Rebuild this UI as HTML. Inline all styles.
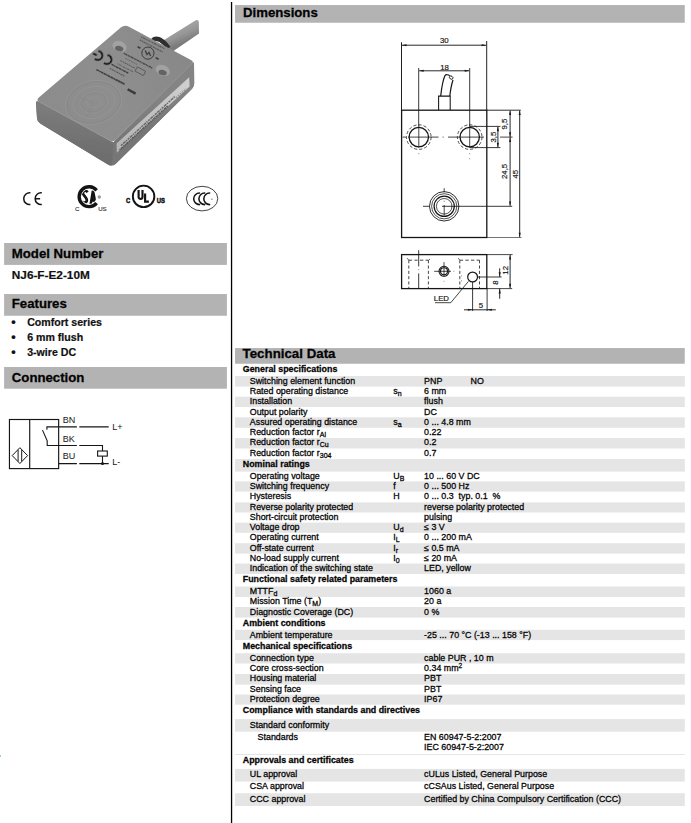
<!DOCTYPE html>
<html><head><meta charset="utf-8"><title>NJ6-F-E2-10M</title>
<style>
html,body{margin:0;padding:0;background:#fff}
body{width:691px;height:823px;position:relative;overflow:hidden;font-family:"Liberation Sans",sans-serif;color:#111}
div{position:absolute;white-space:nowrap}
.vline{left:231px;top:0;width:1.4px;height:823px;background:#111}
.bar{background:#b3b3b3}
.hd{font-weight:bold;font-size:13.2px;color:#030303;line-height:15px;-webkit-text-stroke:0.28px #030303}
.g{left:235px;width:450px;background:#e6e6e6}
.th,.tr,.ts,.sy,.va{font-size:8.87px;color:#050505;line-height:10px;height:10px;-webkit-text-stroke:0.28px #050505}
.th{left:242.8px;font-weight:bold}
.tr{left:249.8px}
.ts{left:257.6px}
.sy{left:393.3px}
.va{left:424.1px}
.no{position:absolute;left:46.5px}
sub{font-size:7px;vertical-align:baseline;position:relative;top:1.9px;line-height:0}
sup{font-size:6.6px;vertical-align:baseline;position:relative;top:-3.2px;line-height:0}
.b{font-weight:bold;font-size:10.6px;color:#111;line-height:13px;-webkit-text-stroke:0.2px #111}
svg{position:absolute;left:0;top:0}
</style></head><body>
<svg width="691" height="823" viewBox="0 0 691 823"><rect x="235" y="376" width="449.8" height="10.60" fill="#e5e5e5"/><rect x="235" y="396.7" width="449.8" height="10.30" fill="#e5e5e5"/><rect x="235" y="417.3" width="449.8" height="10.50" fill="#e5e5e5"/><rect x="235" y="438.1" width="449.8" height="10.40" fill="#e5e5e5"/><rect x="235" y="459" width="449.8" height="12.60" fill="#e5e5e5"/><rect x="235" y="481.4" width="449.8" height="10.20" fill="#e5e5e5"/><rect x="235" y="502.4" width="449.8" height="10.10" fill="#e5e5e5"/><rect x="235" y="522.6" width="449.8" height="10.20" fill="#e5e5e5"/><rect x="235" y="543.2" width="449.8" height="10.40" fill="#e5e5e5"/><rect x="235" y="563.5" width="449.8" height="10.50" fill="#e5e5e5"/><rect x="235" y="586.5" width="449.8" height="10.50" fill="#e5e5e5"/><rect x="235" y="607" width="449.8" height="10.60" fill="#e5e5e5"/><rect x="235" y="629.8" width="449.8" height="10.30" fill="#e5e5e5"/><rect x="235" y="653.2" width="449.8" height="10.30" fill="#e5e5e5"/><rect x="235" y="674" width="449.8" height="10.60" fill="#e5e5e5"/><rect x="235" y="694.5" width="449.8" height="10.20" fill="#e5e5e5"/><rect x="235" y="719.1" width="449.8" height="12.60" fill="#e5e5e5"/><rect x="235" y="754" width="449.8" height="1.00" fill="#e5e5e5"/><rect x="235" y="768.9" width="449.8" height="12.70" fill="#e5e5e5"/><rect x="235" y="793.2" width="449.8" height="12.80" fill="#e5e5e5"/><rect x="4.1" y="243" width="222.8" height="21.9" fill="#b3b3b3"/><rect x="4.1" y="294.05" width="222.8" height="21.7" fill="#b3b3b3"/><rect x="4.1" y="367" width="222.8" height="21.7" fill="#b3b3b3"/><rect x="235.05" y="5.05" width="449.7" height="17.7" fill="#b3b3b3"/><rect x="235.05" y="348.05" width="449.7" height="15.7" fill="#b3b3b3"/></svg>
<svg width="240" height="823" viewBox="0 0 240 823"><rect x="230.9" y="2" width="1.3" height="821" fill="#000"/></svg>
<div style="left:0;top:755px;width:1px;height:2px;background:#8cd6dc"></div>
<div class="hd" style="left:11.8px;top:246.4px">Model Number</div>
<div style="left:11.8px;top:268.7px;font-weight:bold;font-size:11.8px;line-height:13px;-webkit-text-stroke:0.2px #111">NJ6-F-E2-10M</div>
<div class="hd" style="left:11.8px;top:295.9px">Features</div>
<div class="b" style="left:11.3px;top:315.8px;font-size:12.5px">&bull;</div><div class="b" style="left:27.2px;top:315.8px">Comfort series</div>
<div class="b" style="left:11.3px;top:330.7px;font-size:12.5px">&bull;</div><div class="b" style="left:27.2px;top:330.7px">6 mm flush</div>
<div class="b" style="left:11.3px;top:345.8px;font-size:12.5px">&bull;</div><div class="b" style="left:27.2px;top:345.8px">3-wire DC</div>
<div class="hd" style="left:11.8px;top:370px">Connection</div>

<div class="hd" style="left:243px;top:5px">Dimensions</div>
<div class="hd" style="left:242.6px;top:346.1px;font-size:13.3px">Technical Data</div>
<div class="th" style="top:364.00px">General specifications</div>
<div class="tr" style="top:376.00px">Switching element function</div>
<div class="va" style="top:376.00px">PNP<span class="no">NO</span></div>
<div class="tr" style="top:386.00px">Rated operating distance</div>
<div class="sy" style="top:386.00px">s<sub>n</sub></div>
<div class="va" style="top:386.00px">6 mm</div>
<div class="tr" style="top:396.00px">Installation</div>
<div class="va" style="top:396.00px">flush</div>
<div class="tr" style="top:407.00px">Output polarity</div>
<div class="va" style="top:407.00px">DC</div>
<div class="tr" style="top:417.00px">Assured operating distance</div>
<div class="sy" style="top:417.00px">s<sub>a</sub></div>
<div class="va" style="top:417.00px">0 ... 4.8 mm</div>
<div class="tr" style="top:427.00px">Reduction factor r<sub>Al</sub></div>
<div class="va" style="top:427.00px">0.22</div>
<div class="tr" style="top:437.00px">Reduction factor r<sub>Cu</sub></div>
<div class="va" style="top:437.00px">0.2</div>
<div class="tr" style="top:448.00px">Reduction factor r<sub>304</sub></div>
<div class="va" style="top:448.00px">0.7</div>
<div class="th" style="top:459.00px">Nominal ratings</div>
<div class="tr" style="top:471.00px">Operating voltage</div>
<div class="sy" style="top:471.00px">U<sub>B</sub></div>
<div class="va" style="top:471.00px">10 ... 60 V DC</div>
<div class="tr" style="top:481.00px">Switching frequency</div>
<div class="sy" style="top:481.00px">f</div>
<div class="va" style="top:481.00px">0 ... 500 Hz</div>
<div class="tr" style="top:491.00px">Hysteresis</div>
<div class="sy" style="top:491.00px">H</div>
<div class="va" style="top:491.00px">0 ... 0.3&nbsp; typ. 0.1&nbsp; %</div>
<div class="tr" style="top:502.00px">Reverse polarity protected</div>
<div class="va" style="top:502.00px">reverse polarity protected</div>
<div class="tr" style="top:512.00px">Short-circuit protection</div>
<div class="va" style="top:512.00px">pulsing</div>
<div class="tr" style="top:522.00px">Voltage drop</div>
<div class="sy" style="top:522.00px">U<sub>d</sub></div>
<div class="va" style="top:522.00px">&le; 3 V</div>
<div class="tr" style="top:532.00px">Operating current</div>
<div class="sy" style="top:532.00px">I<sub>L</sub></div>
<div class="va" style="top:532.00px">0 ... 200 mA</div>
<div class="tr" style="top:543.00px">Off-state current</div>
<div class="sy" style="top:543.00px">I<sub>r</sub></div>
<div class="va" style="top:543.00px">&le; 0.5 mA</div>
<div class="tr" style="top:553.00px">No-load supply current</div>
<div class="sy" style="top:553.00px">I<sub>0</sub></div>
<div class="va" style="top:553.00px">&le; 20 mA</div>
<div class="tr" style="top:563.00px">Indication of the switching state</div>
<div class="va" style="top:563.00px">LED, yellow</div>
<div class="th" style="top:574.00px">Functional safety related parameters</div>
<div class="tr" style="top:586.00px">MTTF<sub>d</sub></div>
<div class="va" style="top:586.00px">1060 a</div>
<div class="tr" style="top:596.00px">Mission Time (T<sub>M</sub>)</div>
<div class="va" style="top:596.00px">20 a</div>
<div class="tr" style="top:607.00px">Diagnostic Coverage (DC)</div>
<div class="va" style="top:607.00px">0 %</div>
<div class="th" style="top:618.00px">Ambient conditions</div>
<div class="tr" style="top:630.00px">Ambient temperature</div>
<div class="va" style="top:630.00px">-25 ... 70 &deg;C (-13 ... 158 &deg;F)</div>
<div class="th" style="top:641.00px">Mechanical specifications</div>
<div class="tr" style="top:653.00px">Connection type</div>
<div class="va" style="top:653.00px">cable PUR , 10 m</div>
<div class="tr" style="top:663.00px">Core cross-section</div>
<div class="va" style="top:663.00px">0.34 mm<sup>2</sup></div>
<div class="tr" style="top:673.00px">Housing material</div>
<div class="va" style="top:673.00px">PBT</div>
<div class="tr" style="top:684.00px">Sensing face</div>
<div class="va" style="top:684.00px">PBT</div>
<div class="tr" style="top:694.00px">Protection degree</div>
<div class="va" style="top:694.00px">IP67</div>
<div class="th" style="top:705.00px">Compliance with standards and directives</div>
<div class="tr" style="top:720.00px">Standard conformity</div>
<div class="ts" style="top:732.00px">Standards</div>
<div class="va" style="top:732.00px">EN 60947-5-2:2007</div>
<div class="va" style="top:742.00px">IEC 60947-5-2:2007</div>
<div class="th" style="top:755.00px">Approvals and certificates</div>
<div class="tr" style="top:769.00px">UL approval</div>
<div class="va" style="top:769.00px">cULus Listed, General Purpose</div>
<div class="tr" style="top:781.00px">CSA approval</div>
<div class="va" style="top:781.00px">cCSAus Listed, General Purpose</div>
<div class="tr" style="top:794.00px">CCC approval</div>
<div class="va" style="top:794.00px">Certified by China Compulsory Certification (CCC)</div>
<svg width="231" height="180" viewBox="0 0 231 180" style="pointer-events:none">
<defs>
<filter id="pb" x="-5%" y="-5%" width="110%" height="110%"><feGaussianBlur stdDeviation="0.6"/></filter>
<filter id="pb3" x="-20%" y="-20%" width="140%" height="140%"><feGaussianBlur stdDeviation="0.45"/></filter>
<linearGradient id="gtop" gradientUnits="userSpaceOnUse" x1="40" y1="100" x2="190" y2="60">
<stop offset="0" stop-color="#8c8c8c"/><stop offset="0.5" stop-color="#8e8e8e"/><stop offset="1" stop-color="#888888"/>
</linearGradient>
<linearGradient id="gleft" gradientUnits="userSpaceOnUse" x1="75" y1="110" x2="70" y2="150">
<stop offset="0" stop-color="#7c7c7c"/><stop offset="1" stop-color="#6e6e6e"/>
</linearGradient>
<linearGradient id="gright" gradientUnits="userSpaceOnUse" x1="150" y1="100" x2="158" y2="128">
<stop offset="0" stop-color="#848484"/><stop offset="1" stop-color="#767676"/>
</linearGradient>
<linearGradient id="gcab" gradientUnits="userSpaceOnUse" x1="180" y1="28" x2="186" y2="42">
<stop offset="0" stop-color="#a2a2a2"/><stop offset="0.5" stop-color="#949494"/><stop offset="1" stop-color="#7a7a7a"/>
</linearGradient>
<linearGradient id="gstrip" gradientUnits="userSpaceOnUse" x1="116" y1="150" x2="190" y2="82">
<stop offset="0" stop-color="#b4b4b4"/><stop offset="0.6" stop-color="#c4c4c4"/><stop offset="1" stop-color="#d0d0d0"/>
</linearGradient>
</defs>
<g filter="url(#pb)">
<!-- cable -->
<path d="M160 42.6L195.8 20.3Q198.6 19.4 198.8 22L199 33.4L172 52Z" fill="url(#gcab)"/>
<!-- gland -->
<path d="M151.5 38.6C155 34.6 163 36 170.4 46.8L167 49.6C162 42 156 40 152.6 41.6Z" fill="#2e2e2e"/>
<!-- faces -->
<path d="M36.0 103.2Q35.8 100.2 38.4 101.6L112.8 142.2Q113.2 142.4 113.6 142.0L192.6 63.0Q194.0 61.6 194.0 63.6L194.2 83.6Q194.2 86.6 192.1 88.7L115.8 163.7Q112.2 167.2 107.9 164.6L40.2 123.6Q37.2 121.8 37.0 118.3Z" fill="#797979"/>
<path d="M113.2 142.9Q113.2 142.4 113.6 142.0L192.6 63.0Q194.0 61.6 194.0 63.6L194.2 83.6Q194.2 86.6 192.1 88.7L115.8 163.7Q112.2 167.2 112.4 162.2Z" fill="url(#gright)"/>
<path d="M36.0 103.2Q35.8 100.2 38.4 101.6L112.8 142.2Q113.2 142.4 113.2 142.9L112.4 162.2Q112.2 167.2 107.9 164.6L40.2 123.6Q37.2 121.8 37.0 118.3Z" fill="url(#gleft)"/>
<!-- label strip -->
<path d="M116.6 143.6L189.2 77.2L189.6 86.4L116.8 152.8Z" fill="url(#gstrip)"/>
<path d="M121 145.6L175 96.4" stroke="#6a6a6a" stroke-width="1.5" stroke-dasharray="2.2 0.8 3.2 0.7 1.4 0.9" fill="none"/>
<path d="M119.6 150L168 105.8" stroke="#585858" stroke-width="1.6" stroke-dasharray="1.2 0.6 2.6 0.6 1.8 0.5" fill="none"/>
<path d="M176 97.6L186 88.6" stroke="#8a8a8a" stroke-width="1.2" stroke-dasharray="1.4 1.2" fill="none"/>
<!-- top face -->
<path d="M120.8 27.5Q124.6 24.3 129.0 26.7L191.4 60.2Q194.0 61.6 191.9 63.7L116.0 139.6Q113.2 142.4 109.7 140.5L39.3 102.1Q35.8 100.2 38.8 97.6Z" fill="url(#gtop)"/>
<!-- edge highlight -->
<path d="M39 101.6L112.6 141.8" fill="none" stroke="#969696" stroke-width="1.1" opacity="0.6"/>
<path d="M114.4 141L192.6 63" fill="none" stroke="#969696" stroke-width="1" opacity="0.45"/>
<!-- sensing face rings -->
<g fill="none" stroke-width="0.9">
<ellipse cx="93.7" cy="102.4" rx="28.5" ry="21.5" transform="rotate(-14 93.7 102.4)" stroke="#979797" opacity="0.75"/>
<ellipse cx="93.7" cy="102.4" rx="27" ry="20.3" transform="rotate(-14 93.7 102.4)" stroke="#838383" opacity="0.6"/>
<ellipse cx="93.7" cy="102.4" rx="21" ry="15.8" transform="rotate(-14 93.7 102.4)" stroke="#979797" opacity="0.7"/>
<ellipse cx="93.7" cy="102.4" rx="14" ry="10.5" transform="rotate(-14 93.7 102.4)" stroke="#979797" opacity="0.7"/>
<ellipse cx="93.7" cy="102.4" rx="13" ry="9.6" transform="rotate(-14 93.7 102.4)" stroke="#848484" opacity="0.6"/>
<ellipse cx="93.7" cy="102.4" rx="7" ry="5.2" transform="rotate(-14 93.7 102.4)" stroke="#979797" opacity="0.6"/>
<path d="M93.7 102.4L84 122M93.7 102.4L80 98" stroke="#868686" opacity="0.5"/>
</g>
<!-- mounting holes -->
<ellipse cx="119.6" cy="46.4" rx="7.4" ry="5.2" transform="rotate(22 119.6 46.4)" fill="#a2a2a2"/>
<ellipse cx="119.2" cy="48.6" rx="4.2" ry="2.6" transform="rotate(15 119.2 48.6)" fill="#636363"/>
<ellipse cx="162.8" cy="70.4" rx="7.4" ry="5.2" transform="rotate(22 162.8 70.4)" fill="#a2a2a2"/>
<ellipse cx="162.6" cy="72.6" rx="4.2" ry="2.6" transform="rotate(15 162.6 72.6)" fill="#636363"/>
</g>
<g filter="url(#pb3)" fill="none">
<path d="M141.1 36.8L164.3 48.6" stroke="#5a5a5a" stroke-width="1.3" stroke-dasharray="1.4 0.6 2.2 0.5 0.9 0.6" opacity="1"/><path d="M139.7 39.9L162.6 52.0" stroke="#5e5e5e" stroke-width="1.3" stroke-dasharray="2 0.6 1.1 0.5 2.6 0.7" opacity="1"/><path d="M123.7 53.2L152.2 68.0" stroke="#4a4a4a" stroke-width="1.5" stroke-dasharray="1.2 0.5 2.4 0.5 1.6 0.4" opacity="1"/><path d="M125.5 58.4L137.5 64.6" stroke="#666" stroke-width="1.1" stroke-dasharray="1.6 0.7 0.9 0.6" opacity="1"/><path d="M120.4 60.6L135.0 68.2" stroke="#5c5c5c" stroke-width="1.1" stroke-dasharray="2.2 0.6 1.2 0.6" opacity="1"/><path d="M117.6 63.8L133.0 71.8" stroke="#626262" stroke-width="1.1" stroke-dasharray="1.2 0.6 2.1 0.6" opacity="1"/><path d="M111.6 64.4L128.4 73.2" stroke="#444" stroke-width="1.5" stroke-dasharray="2.4 0.5 1.4 0.4 3 0.5" opacity="1"/><path d="M109.8 68.4L125.0 76.4" stroke="#5a5a5a" stroke-width="1.2" stroke-dasharray="1.4 0.6 2.4 0.6" opacity="1"/><path d="M96.4 69.6L124.0 84.0" stroke="#3e3e3e" stroke-width="1.6" stroke-dasharray="2.8 0.5 1.6 0.4 2.2 0.5" opacity="1"/><path d="M116.0 79.5L124.8 84.2" stroke="#4a4a4a" stroke-width="1.4" opacity="1"/><path d="M127.6 89.2L135.6 93.6" stroke="#3a3a3a" stroke-width="2.4" opacity="1"/>
<path d="M137.1 67.1Q137.2 66.8 137.5 66.9L145.3 71.1Q145.6 71.2 145.5 71.5L143.5 75.3Q143.4 75.6 143.1 75.5L135.3 71.3Q135.0 71.2 135.1 70.9Z" stroke="#4c4c4c" stroke-width="0.8"/>
<circle cx="147.9" cy="53.1" r="6.1" stroke="#3a3a3a" stroke-width="1"/>
<path d="M145.2 50.6L147 54.6L149 52.4L150.6 56" stroke="#3a3a3a" stroke-width="1.2"/>
<path d="M137.6 46.8L140.4 48.2M155.6 57.6L158.6 59.2" stroke="#3a3a3a" stroke-width="1.6"/>
</g>
<!-- CE mark on housing -->
<g filter="url(#pb3)" fill="none" stroke="#141414" stroke-width="1.75" transform="rotate(24 101 57)">
<path d="M96.2 52.6A4.5 4.5 0 1 1 96.2 61.2M92.4 57H96.4"/>
<path d="M106.2 52.6A4.5 4.5 0 1 1 106.2 61.2"/>
</g>
</svg>

<svg width="240" height="240" viewBox="0 0 240 240" style="pointer-events:none">
<!-- CE -->
<g fill="none" stroke="#141414" stroke-width="1.5" stroke-linecap="butt">
<path d="M30.4 192.85A5.9 5.9 0 1 0 30.4 204.55"/>
<path d="M41.8 192.85A5.9 5.9 0 1 0 41.8 204.55M35.6 198.7H40.1"/>
</g>
<!-- CSA -->
<g>
<path d="M96.6 190.3A9.9 9.9 0 1 0 96.6 203.1" fill="none" stroke="#141414" stroke-width="3.4"/>
<clipPath id="csac"><circle cx="89" cy="196.7" r="7.35"/></clipPath>
<g clip-path="url(#csac)" fill="none" stroke="#141414" stroke-width="2.7" stroke-linejoin="miter">
<path d="M87.6 192.2C86 189.8 82.6 190.6 82.9 193.4C83.1 195.2 86.6 197.6 86.8 199.9C87 202.6 83.6 203.6 81.8 201.2"/>
<path d="M90.6 205L93 190.6L95.6 205M91 200.4H95.2" stroke-width="2.6"/>
</g>
<circle cx="99.3" cy="197" r="1.7" fill="#999"/>
<g font-family="Liberation Sans, sans-serif" font-size="6.1" fill="#333" stroke="#333" stroke-width="0.15">
<text x="75.1" y="210.7">C</text>
<text x="98.2" y="210.7">US</text>
</g>
</g>
<!-- UL -->
<g>
<circle cx="143.6" cy="196.4" r="10.75" fill="none" stroke="#141414" stroke-width="1.9"/>
<g font-family="Liberation Sans, sans-serif" font-weight="bold" fill="#141414">
<path d="M138.6 190.1V196.9A1.95 1.95 0 0 0 142.5 196.9V190.1M145.1 193.4V201.55H148.9" fill="none" stroke="#141414" stroke-width="2.15"/>
<g stroke="#141414" stroke-width="0.55"><text transform="translate(126 202.7) scale(0.72 1)" font-size="8">C</text>
<text transform="translate(156.8 202.7) scale(0.74 1)" font-size="8">US</text></g>
</g>
</g>
<!-- CCC -->
<g fill="none" stroke="#141414">
<ellipse cx="202.1" cy="198.6" rx="15.7" ry="12.3" stroke-width="0.8"/>
<g stroke-width="1.55" stroke-linecap="round">
<path d="M199.5 193A5.8 5.8 0 0 0 199.5 204.6"/>
<path d="M204.7 193A5.8 5.8 0 0 0 204.7 204.6"/>
<path d="M209.6 193A5.8 5.8 0 0 0 209.6 204.6"/>
</g>
</g>
<circle cx="211.9" cy="199.2" r="0.7" fill="#6677bb"/>
</svg>

<svg width="240" height="500" viewBox="0 0 240 500" style="pointer-events:none">
<g fill="none" stroke="#161616" stroke-width="1.1">
<rect x="9.45" y="419.5" width="49.2" height="49.1" stroke-width="1.15"/>
<path d="M29.7 419.5V468.6" stroke-width="1.15"/>
<!-- BN -->
<path d="M46.9 429.7V426.9H76.9M79.3 426.9H108.7"/>
<!-- switch -->
<path d="M42.5 430.1L47.2 440.8V445.5H76.9M79.3 445.5H102.5V451"/>
<rect x="97.6" y="451" width="9.7" height="5.1"/>
<path d="M102.5 456.1V463.6"/>
<!-- BU -->
<path d="M58.7 463.6H76.9M79.3 463.6H108.7"/>
<!-- diamond -->
<path d="M12.2 455.6L19.9 447.7L27.6 455.6L19.9 463.5Z" stroke-width="1"/>
<path d="M18.1 449.8V461.4M21.7 449.8V461.4" stroke-width="1"/>
</g>
<circle cx="102.5" cy="463.6" r="1.5" fill="#161616"/>
<g font-family="Liberation Sans, sans-serif" font-size="9" fill="#161616">
<text x="62.8" y="422.8">BN</text>
<text x="62.8" y="441.6">BK</text>
<text x="62.8" y="458.5">BU</text>
<text x="112.2" y="429.9">L+</text>
<text x="112.2" y="465">L-</text>
</g>
</svg>

<svg width="691" height="823" viewBox="0 0 691 823" style="pointer-events:none">
<g fill="none" stroke="#161616" stroke-width="0.92" stroke-linecap="butt">
<!-- top view outline -->
<rect x="401.6" y="110.2" width="85.2" height="127.3" stroke-width="1.3"/>
<!-- ext lines 30 -->
<path d="M401.5 42.3V110M486.7 41V110" stroke-width="0.95"/>
<path d="M402 45.2H486.2"/>
<!-- 18 -->
<path d="M418.7 68V125.5M469.7 68V125.5" stroke-width="0.85"/>
<path d="M419.2 70.8H469.2"/>
<!-- cable stub -->
<path d="M438.6 110V96.1H450.2V110" stroke-width="1.05"/>
<path d="M440.7 96C441.6 88 443 80 445 75.6C446 74.2 448.2 74.6 449.8 75.8M449.8 96C450.6 89 451.8 83.5 453 80" stroke-width="1.2"/>
<ellipse cx="451.2" cy="77.6" rx="1.9" ry="1.5" transform="rotate(35 451.2 77.6)" stroke-width="0.9"/>
<!-- holes -->
<circle cx="418.8" cy="137.1" r="9.7" stroke-width="1.3"/>
<circle cx="469.7" cy="137.1" r="9.7" stroke-width="1.3"/>
<circle cx="418.8" cy="137.1" r="12.3" stroke-dasharray="3.2 2" stroke-width="0.75"/>
<circle cx="469.7" cy="137.1" r="12.3" stroke-dasharray="3.2 2" stroke-width="0.75"/>
<!-- center lines -->
<path d="M402.6 137.1H406M408 137.1H438.5M442.6 137.1H443.6M448 137.1H484M500 137.1H512.6" stroke-width="0.8"/>
<path d="M418.8 125V147.6M469.7 125V147.6" stroke-width="0.8"/>
<path d="M418.8 153.2V154.2M469.7 153.2V154.2M469.7 158.3V159.3" stroke-width="0.7" stroke="#555"/>
<!-- 3.5 dim -->
<path d="M469.7 126.4H500.4M469.7 147.6H500.4" stroke-width="0.85"/>
<path d="M497.9 126.8V147.2"/>
<!-- right ext lines -->
<path d="M486.8 110.2H520.8" stroke-width="0.9"/>
<path d="M486.8 237.5H521.5" stroke-width="0.6"/>
<path d="M510.1 110.6V205.8"/>
<path d="M519.7 110.6V237.2"/>
<!-- sensor circles -->
<circle cx="444.2" cy="206.3" r="14.7" stroke-width="0.9"/>
<circle cx="444.2" cy="206.3" r="12.6" stroke-width="0.75"/>
<circle cx="444.2" cy="206.3" r="10.1" stroke-width="1.25"/>
<circle cx="444.2" cy="206.3" r="7.8" stroke-width="0.75"/>
<path d="M423 206.3H429.6M442 206.3H512.2" stroke-width="0.85"/>
<path d="M444.2 188.2V192.4M444.2 200.8V201.6M444.2 205V215.6" stroke-width="0.8"/>
<!-- side view -->
<rect x="401.6" y="254.6" width="85.2" height="34" stroke-width="1.3"/>
<path d="M486.8 254.6H512.6M486.8 288.6H512.2" stroke-width="0.8"/>
<path d="M510.1 255V288.2"/>
<!-- 8 dim -->
<path d="M499.7 268.3V277M499.7 288.6V298.8"/>
<path d="M477.6 277H501.6" stroke-width="0.85"/>
<!-- LED -->
<circle cx="472.6" cy="277" r="4.9" stroke-width="1.2"/>
<path d="M472.6 282V311M487.1 288.6V311" stroke-width="0.85"/>
<path d="M464 309.8H495.8"/>
<path d="M435 302.7H450.8L468.4 281.4" stroke-width="0.8"/>
<!-- small circle -->
<circle cx="444" cy="271.3" r="5" stroke-width="1.1"/>
<circle cx="444" cy="271.3" r="3.5" stroke-width="1.1"/>
<path d="M434.2 271.3H451M444 262.2V276.4" stroke-width="0.8"/>
<path d="M453.3 271.3H454.3M444 280.8V281.8" stroke-width="0.7" stroke="#666"/>
<!-- dashed pockets -->
<path d="M408.8 260.2V288M428.4 260.2V288M459.8 260.2V288M479.5 260.2V288" stroke-dasharray="3.1 2.2" stroke-width="0.8"/>
<path d="M408.8 260.2H428.4M459.8 260.2H479.5" stroke-dasharray="3.3 2.3" stroke-width="0.8"/>
<path d="M407.2 258.2L408.8 260.2M458.2 258.2L459.8 260.2M430 259L428.6 260.2" stroke-width="0.7"/>
<path d="M418.7 250.2V266.4M418.7 273.4V288.4" stroke-width="0.85"/>
<path d="M418.7 269V270M461 275.8H462M461 280.8H462" stroke-width="0.7" stroke="#666"/>
</g>
<!-- arrowheads -->
<g>
<path d="M0 0L-4.6 -1.05L-4.6 1.05Z" fill="#161616" transform="translate(401.9 45.2) rotate(180)"/>
<path d="M0 0L-4.6 -1.05L-4.6 1.05Z" fill="#161616" transform="translate(486.3 45.2)"/>
<path d="M0 0L-4.6 -1.05L-4.6 1.05Z" fill="#161616" transform="translate(419.1 70.8) rotate(180)"/>
<path d="M0 0L-4.6 -1.05L-4.6 1.05Z" fill="#161616" transform="translate(469.3 70.8)"/>
<path d="M0 0L-4.6 -1.05L-4.6 1.05Z" fill="#161616" transform="translate(497.9 126.6) rotate(-90)"/>
<path d="M0 0L-4.6 -1.05L-4.6 1.05Z" fill="#161616" transform="translate(497.9 147.4) rotate(90)"/>
<path d="M0 0L-4.6 -1.05L-4.6 1.05Z" fill="#161616" transform="translate(510.1 110.5) rotate(-90)"/>
<path d="M0 0L-4.6 -1.05L-4.6 1.05Z" fill="#161616" transform="translate(510.1 136.9) rotate(90)"/>
<path d="M0 0L-4.6 -1.05L-4.6 1.05Z" fill="#161616" transform="translate(510.1 137.4) rotate(-90)"/>
<path d="M0 0L-4.6 -1.05L-4.6 1.05Z" fill="#161616" transform="translate(510.1 206) rotate(90)"/>
<path d="M0 0L-4.6 -1.05L-4.6 1.05Z" fill="#161616" transform="translate(519.7 110.5) rotate(-90)"/>
<path d="M0 0L-4.6 -1.05L-4.6 1.05Z" fill="#161616" transform="translate(519.7 237.3) rotate(90)"/>
<path d="M0 0L-4.6 -1.05L-4.6 1.05Z" fill="#161616" transform="translate(510.1 254.9) rotate(-90)"/>
<path d="M0 0L-4.6 -1.05L-4.6 1.05Z" fill="#161616" transform="translate(510.1 288.3) rotate(90)"/>
<path d="M0 0L-4.6 -1.05L-4.6 1.05Z" fill="#161616" transform="translate(499.7 276.8) rotate(90)"/>
<path d="M0 0L-4.6 -1.05L-4.6 1.05Z" fill="#161616" transform="translate(499.7 288.8) rotate(-90)"/>
<path d="M0 0L-4.6 -1.05L-4.6 1.05Z" fill="#161616" transform="translate(472.4 309.8)"/>
<path d="M0 0L-4.6 -1.05L-4.6 1.05Z" fill="#161616" transform="translate(487.3 309.8) rotate(180)"/>
</g>
<g font-family="Liberation Sans, sans-serif" font-size="7.8" fill="#141414" stroke="#141414" stroke-width="0.18" text-anchor="middle">
<text x="444.3" y="43">30</text>
<text x="444.5" y="69.6">18</text>
<text x="481" y="308">5</text>
<text x="441.4" y="300.8">LED</text>
<text transform="translate(496.3 137.1) rotate(-90)">3,5</text>
<text transform="translate(507.3 124.2) rotate(-90)">9,5</text>
<text transform="translate(507.3 171.4) rotate(-90)">24,5</text>
<text transform="translate(517.8 174.2) rotate(-90)">45</text>
<text transform="translate(508.2 270.3) rotate(-90)">12</text>
<text transform="translate(498.2 282.6) rotate(-90)">8</text>
</g>
</svg>

</body></html>
